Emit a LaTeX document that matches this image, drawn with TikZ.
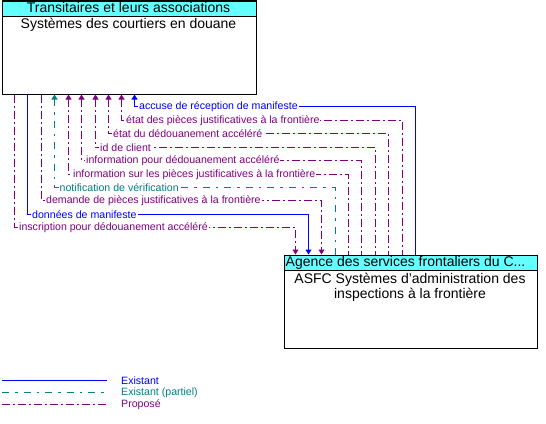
\documentclass[tikz,border=0pt]{standalone}
\usepackage{fontspec}
\setmainfont{Liberation Sans}
\usetikzlibrary{arrows.meta}
\definecolor{cblue}{RGB}{0,0,255}
\definecolor{cteal}{RGB}{0,128,128}
\definecolor{cpurp}{RGB}{128,0,128}
\definecolor{chead}{RGB}{102,255,255}
\tikzset{
  boxbody/.style={draw=black, line width=1pt, anchor=north west, inner sep=0pt},
  boxhead/.style={draw=black, line width=1pt, fill=chead, anchor=north west, inner sep=0pt},
  bigtext/.style={font=\fontsize{14}{15.5}\selectfont, inner sep=0pt},
  lab/.style={font=\fontsize{10.6}{12}\selectfont, fill=white, inner xsep=1pt, inner ysep=0.5pt, anchor=west},
  ex/.style={draw=cblue, line width=1pt},
  part/.style={draw=cteal, line width=1pt, dash pattern=on 7pt off 6pt on 2.5pt off 6pt},
  prop/.style={draw=cpurp, line width=1pt, dash pattern=on 8pt off 3pt on 2pt off 3pt},
  tipb/.style={-{Triangle[width=6pt,length=5pt]}},
  tipbs/.style={{Triangle[width=6pt,length=5pt]}-},
}
\begin{document}
\begin{tikzpicture}[x=1pt,y=-1pt]
\useasboundingbox (0,0) rectangle (546,423);
% top box
\node[boxbody, minimum width=254pt, minimum height=93pt] (top) at (1.5,0.5) {};
\node[boxhead, minimum width=254pt, minimum height=15pt] (toph) at (1.5,0.5) {};
\node[bigtext, anchor=base] (tophtext) at (128.5,12.5) {Transitaires et leurs associations};
\node[bigtext, anchor=base] (toptext) at (128.5,28.5) {Systèmes des courtiers en douane};
% bottom box
\node[boxbody, minimum width=253pt, minimum height=93pt] (bot) at (283.5,254.5) {};
\node[boxhead, minimum width=253pt, minimum height=15pt] (both) at (283.5,254.5) {};
\node[bigtext, anchor=base west] (bothtext) at (285.5,266.5) {Agence des services frontaliers du C...};
\node[bigtext, align=center, anchor=north] (bottext) at (410,272.5) {ASFC Systèmes d’administration des\\inspections à la frontière};
% connectors
\draw[prop, tipb] (top.south -| 14.5,0) |- (295.5,227.5) -- (bot.north -| 295.5,0);
\node[lab, text=cpurp] (l1) at (18,227.5) {inscription pour dédouanement accéléré};
\draw[ex, tipb] (top.south -| 27.5,0) |- (308.5,214.5) -- (bot.north -| 308.5,0);
\node[lab, text=cblue] (l2) at (31,214.5) {données de manifeste};
\draw[prop, tipb] (top.south -| 41.5,0) |- (321.5,200.5) -- (bot.north -| 321.5,0);
\node[lab, text=cpurp] (l3) at (45,200.5) {demande de pièces justificatives à la frontière};
\draw[part, tipbs] (top.south -| 54.5,0) |- (335.5,187.5) -- (bot.north -| 335.5,0);
\node[lab, text=cteal] (l4) at (58.5,187.5) {notification de vérification};
\draw[prop, tipbs] (top.south -| 68.5,0) |- (348.5,174.5) -- (bot.north -| 348.5,0);
\node[lab, text=cpurp] (l5) at (72,174.5) {information sur les pièces justificatives à la frontière};
\draw[prop, tipbs] (top.south -| 81.5,0) |- (361.5,160.5) -- (bot.north -| 361.5,0);
\node[lab, text=cpurp] (l6) at (85,160.5) {information pour dédouanement accéléré};
\draw[prop, tipbs] (top.south -| 95.5,0) |- (375.5,147.5) -- (bot.north -| 375.5,0);
\node[lab, text=cpurp] (l7) at (99,147.5) {id de client};
\draw[prop, tipbs] (top.south -| 108.5,0) |- (388.5,133.5) -- (bot.north -| 388.5,0);
\node[lab, text=cpurp] (l8) at (112,133.5) {état du dédouanement accéléré};
\draw[prop, tipbs] (top.south -| 121.5,0) |- (402.5,120.5) -- (bot.north -| 402.5,0);
\node[lab, text=cpurp] (l9) at (125,120.5) {état des pièces justificatives à la frontière};
\draw[ex, tipbs] (top.south -| 134.5,0) |- (415.5,106.5) -- (bot.north -| 415.5,0);
\node[lab, text=cblue] (l10) at (138,106.5) {accuse de réception de manifeste};
% legend
\coordinate (la1) at (2,380.5); \coordinate (lb1) at (107,380.5);
\coordinate (la2) at (2,392.5); \coordinate (lb2) at (107,392.5);
\coordinate (la3) at (2,404.5); \coordinate (lb3) at (107,404.5);
\draw[ex] (la1) -- (lb1);
\draw[part] (la2) -- (lb2);
\draw[prop] (la3) -- (lb3);
\node[lab, fill=none, text=cblue] (lt1) at (120,380.5) {Existant};
\node[lab, fill=none, text=cteal] (lt2) at (120,392.5) {Existant (partiel)};
\node[lab, fill=none, text=cpurp] (lt3) at (120,404.5) {Proposé};
\end{tikzpicture}
\end{document}
